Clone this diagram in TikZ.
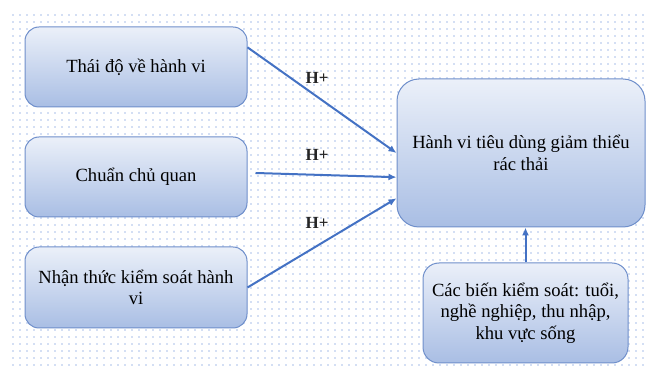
\documentclass[tikz,border=0pt]{standalone}
\usepackage{fontspec}
\setmainfont{Liberation Serif}
\usetikzlibrary{arrows.meta,calc,patterns.meta}
\definecolor{boxtop}{HTML}{EBF0F9}
\definecolor{boxbot}{HTML}{A9BEE4}
\definecolor{boxline}{HTML}{6F8FCB}
\definecolor{arrowc}{HTML}{4472C4}
\definecolor{dotc}{HTML}{A9C0EA}
\begin{document}
\begin{tikzpicture}[x=1pt,y=-1pt,
  box/.style={draw=boxline, line width=1pt, top color=boxtop, bottom color=boxbot,
    rounded corners=14pt, align=center, inner sep=4pt,
    font=\fontsize{18.6}{21.5}\selectfont},
  conn/.style={draw=arrowc, line width=2pt, -{Latex[length=8pt,width=7pt]}},
  hlab/.style={font=\fontsize{17}{20}\selectfont\bfseries, text=black!85}
]
\useasboundingbox (0,0) rectangle (649,371);
\fill[white] (0,0) rectangle (649,371);
\fill[pattern={Dots[distance=6.5pt,radius=0.9pt]}, pattern color=dotc] (8,12) rectangle (649,371);

\node[box, minimum width=222pt, minimum height=80pt] (b1) at (136,67) {Thái độ về hành vi};
\node[box, minimum width=222pt, minimum height=80pt] (b2) at (136,177) {Chuẩn chủ quan};
\node[box, minimum width=222pt, minimum height=81pt] (b3) at (136,287.5) {Nhận thức kiểm soát hành\\vi};
\node[box, rounded corners=22pt, minimum width=248pt, minimum height=148pt] (t) at (521,153) {Hành vi tiêu dùng giảm thiểu\\rác thải};
\node[box, rounded corners=16pt, minimum width=205pt, minimum height=100pt] (c) at (525.5,313) {Các biến kiểm soát: tuổi,\\nghề nghiệp, thu nhập,\\khu vực sống};

\draw[conn] (b1.10.7) -- (t.west);
\draw[conn] ($(b2.east)+(8,-4)$) -- (t.191.4);
\draw[conn] (b3.east) -- (t.200.8);
\draw[conn] (c.north) -- (c.north |- t.south);

\node[hlab] (h1) at (317,78) {H+};
\node[hlab] (h2) at (317,155) {H+};
\node[hlab] (h3) at (317,223) {H+};
\end{tikzpicture}
\end{document}
